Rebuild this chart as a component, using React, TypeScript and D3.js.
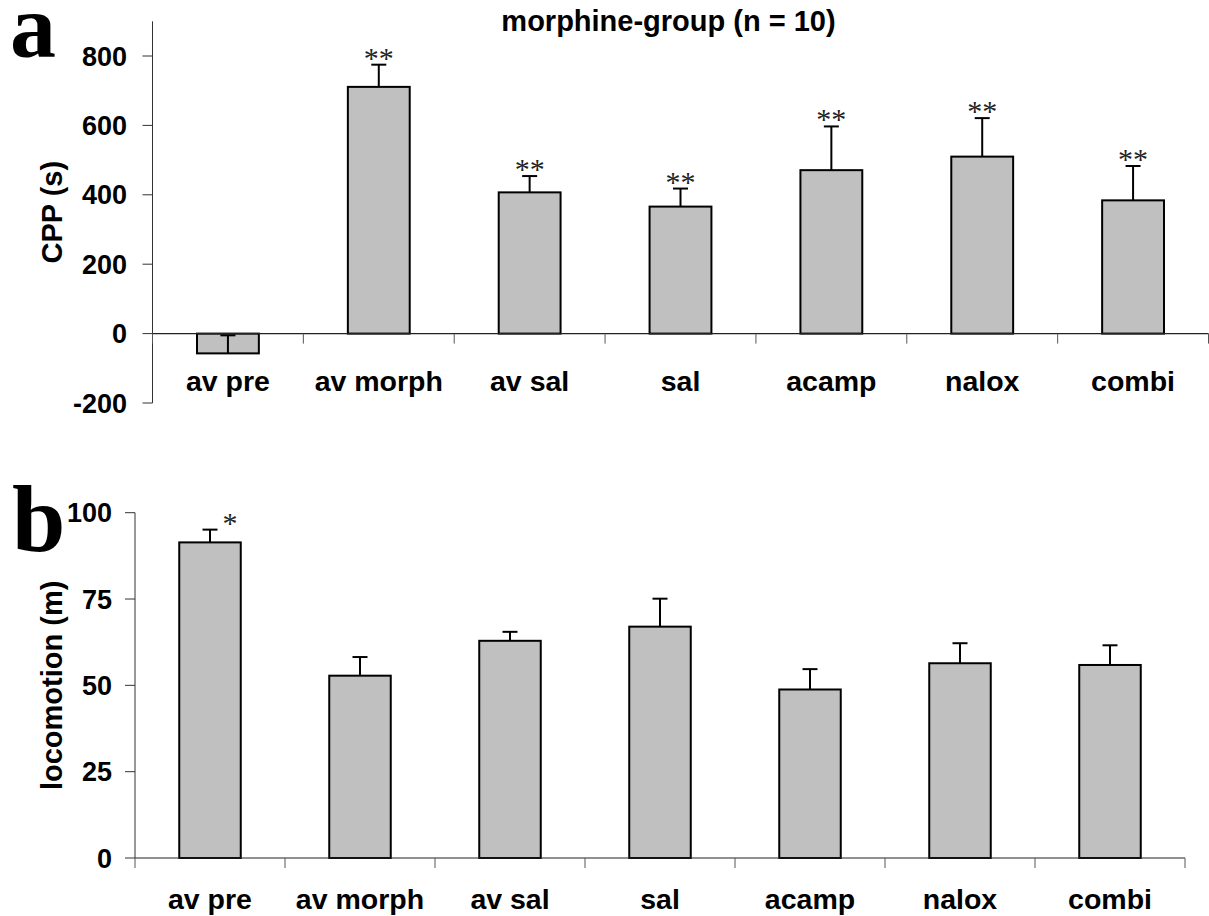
import React from "react";
import * as d3 from "d3";

const categories = ["av pre", "av morph", "av sal", "sal", "acamp", "nalox", "combi"];

const cppMeans = [-57, 711, 407, 366, 471, 510, 384];
const cppErr = [52, 64, 47, 52, 126, 111, 99];
const cppSig = ["", "**", "**", "**", "**", "**", "**"];
const cppTicks = [-200, 0, 200, 400, 600, 800];

const locoMeans = [91.4, 52.8, 62.9, 67.0, 48.8, 56.4, 55.9];
const locoErr = [3.7, 5.4, 2.6, 8.1, 5.9, 5.8, 5.7];
const locoSig = ["*", "", "", "", "", "", ""];
const locoTicks = [0, 25, 50, 75, 100];

const SANS = "'Liberation Sans', Arial, Helvetica, sans-serif";
const SERIF = "'Liberation Serif', 'Times New Roman', serif";

type PanelProps = {
  means: number[];
  errs: number[];
  sig: string[];
  ticks: number[];
  domain: [number, number];
  yRange: [number, number];
  xRange: [number, number];
  yLabel: string;
  yLabelX: number;
  tickLabelX: number;
  catLabelY: number;
  sigDx: number;
};

function Panel(p: PanelProps) {
  const x = d3.scaleBand<string>().domain(categories).range(p.xRange).padding(0);
  const y = d3.scaleLinear().domain(p.domain).range(p.yRange);
  const step = x.step();
  const bw = step * 0.41;
  const capW = 15;
  const axisX = p.xRange[0];
  const y0 = y(0);
  const boundaries = d3.range(categories.length + 1).map((i) => p.xRange[0] + i * step);
  const yMid = (y(p.ticks[0]) + y(p.domain[1])) / 2;
  return (
    <g>
      {categories.map((c, i) => {
        const v = p.means[i];
        const cx = (x(c) as number) + step / 2;
        const top = Math.min(y(v), y0);
        const h = Math.abs(y(v) - y0);
        const end = y(v + p.errs[i]);
        return (
          <g key={c}>
            <rect x={cx - bw / 2} y={top} width={bw} height={h} fill="#c0c0c0" stroke="#000" strokeWidth={2} />
            <line x1={cx} x2={cx} y1={y(v)} y2={end} stroke="#000" strokeWidth={2} />
            <line x1={cx - capW / 2} x2={cx + capW / 2} y1={end} y2={end} stroke="#000" strokeWidth={2} />
            {p.sig[i] ? (
              <text x={cx + p.sigDx} y={end + 3} textAnchor="middle" fontFamily={SERIF} fontSize={30} fill="#222">
                {p.sig[i]}
              </text>
            ) : null}
          </g>
        );
      })}
      <line x1={axisX} x2={axisX} y1={y(p.domain[0])} y2={y(p.domain[1])} stroke="#333" strokeWidth={1} />
      {p.ticks.map((t) => (
        <g key={t}>
          <line x1={axisX - 10} x2={axisX} y1={y(t)} y2={y(t)} stroke="#333" strokeWidth={1} />
          <text x={p.tickLabelX} y={y(t) + 9.5} textAnchor="end" fontFamily={SANS} fontWeight="bold" fontSize={27} fill="#000">
            {t}
          </text>
        </g>
      ))}
      <line x1={p.xRange[0]} x2={p.xRange[1]} y1={y0} y2={y0} stroke="#222" strokeWidth={1.2} />
      {boundaries.map((b, i) => (
        <line key={i} x1={b} x2={b} y1={y0} y2={y0 + 10} stroke="#555" strokeWidth={1} />
      ))}
      {categories.map((c) => (
        <text
          key={c}
          x={(x(c) as number) + step / 2}
          y={p.catLabelY}
          textAnchor="middle"
          fontFamily={SANS}
          fontWeight="bold"
          fontSize={28.5}
          fill="#000"
        >
          {c}
        </text>
      ))}
      <text
        transform={`translate(${p.yLabelX},${yMid}) rotate(-90)`}
        textAnchor="middle"
        fontFamily={SANS}
        fontWeight="bold"
        fontSize={29}
        fill="#000"
      >
        {p.yLabel}
      </text>
    </g>
  );
}

export default function App() {
  return (
    <svg
      width={1209}
      height={916}
      viewBox="0 0 1209 916"
      style={{ position: "absolute", left: 0, top: 0, background: "#fff" }}
    >
      <rect x={0} y={0} width={1209} height={916} fill="#fff" />
      <text x={668.5} y={31} textAnchor="middle" fontFamily={SANS} fontWeight="bold" fontSize={29} fill="#000">
        morphine-group (n = 10)
      </text>
      <text x={10} y={57} fontFamily={SERIF} fontWeight="bold" fontSize={92} fill="#000">
        a
      </text>
      <text x={12} y={551} fontFamily={SERIF} fontWeight="bold" fontSize={96} fill="#000">
        b
      </text>
      <Panel
        means={cppMeans}
        errs={cppErr}
        sig={cppSig}
        ticks={cppTicks}
        domain={[-200, 900]}
        yRange={[403, 21.3]}
        xRange={[152.5, 1208.5]}
        yLabel="CPP (s)"
        yLabelX={62}
        tickLabelX={127}
        catLabelY={391}
        sigDx={0}
      />
      <Panel
        means={locoMeans}
        errs={locoErr}
        sig={locoSig}
        ticks={locoTicks}
        domain={[0, 100]}
        yRange={[858, 512.7]}
        xRange={[135, 1185]}
        yLabel="locomotion (m)"
        yLabelX={62}
        tickLabelX={112}
        catLabelY={909}
        sigDx={20}
      />
    </svg>
  );
}
